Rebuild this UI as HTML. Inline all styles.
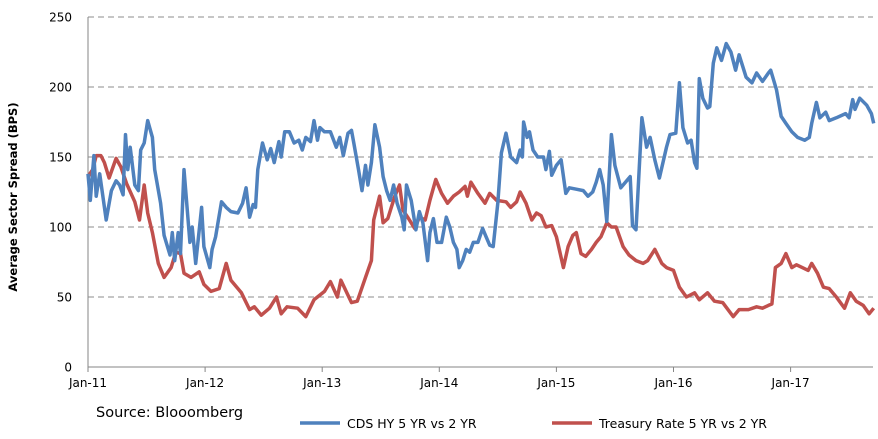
<!DOCTYPE html>
<html><head><meta charset="utf-8"><style>
body{margin:0;background:#fff;width:878px;height:435px;overflow:hidden;font-family:"DejaVu Sans",sans-serif}
svg text{font-family:"DejaVu Sans",sans-serif}
</style></head><body>
<svg id="chart" width="878" height="435" xmlns="http://www.w3.org/2000/svg"></svg>
<script>
const yTicks=[0,50,100,150,200,250];
const xTickYears=[2011,2012,2013,2014,2015,2016,2017];
const xTickLabels=["Jan-11","Jan-12","Jan-13","Jan-14","Jan-15","Jan-16","Jan-17"];
const seriesNames=["CDS HY 5 YR vs 2 YR","Treasury Rate 5 YR vs 2 YR"];
const cdsDates=[2011.00,2011.02,2011.05,2011.07,2011.10,2011.155,2011.20,2011.24,2011.27,2011.30,2011.32,2011.34,2011.36,2011.40,2011.43,2011.45,2011.48,2011.51,2011.55,2011.57,2011.62,2011.65,2011.70,2011.72,2011.74,2011.77,2011.79,2011.82,2011.87,2011.89,2011.92,2011.97,2011.99,2012.04,2012.06,2012.09,2012.14,2012.18,2012.22,2012.28,2012.32,2012.35,2012.38,2012.41,2012.43,2012.45,2012.49,2012.53,2012.56,2012.59,2012.63,2012.65,2012.68,2012.72,2012.76,2012.80,2012.83,2012.86,2012.90,2012.93,2012.96,2012.98,2013.02,2013.07,2013.12,2013.15,2013.18,2013.22,2013.25,2013.27,2013.31,2013.34,2013.37,2013.39,2013.42,2013.45,
2013.49,2013.52,2013.55,2013.58,2013.61,2013.64,2013.68,2013.70,2013.72,2013.76,2013.80,2013.83,2013.86,2013.90,2013.92,2013.95,2013.98,2014.02,2014.06,2014.09,2014.12,2014.15,2014.17,2014.20,2014.23,2014.26,2014.29,2014.33,2014.37,2014.40,2014.43,2014.46,2014.50,2014.53,2014.57,2014.61,2014.66,2014.69,2014.71,2014.72,2014.75,2014.77,2014.80,2014.84,2014.89,2014.91,2014.94,2014.96,2015.00,2015.04,2015.08,2015.11,2015.17,2015.23,2015.27,2015.31,2015.34,2015.37,2015.40,
2015.43,2015.47,2015.50,2015.55,2015.63,2015.65,2015.68,2015.73,2015.77,2015.80,2015.84,2015.88,2015.94,2015.97,2016.02,2016.05,2016.08,2016.12,2016.15,2016.18,2016.20,2016.22,2016.25,2016.29,2016.31,2016.34,2016.37,2016.41,2016.45,2016.49,2016.53,2016.56,2016.62,2016.67,2016.71,2016.76,2016.81,2016.83,2016.88,2016.92,2016.96,2017.01,2017.06,2017.12,2017.16,2017.18,2017.22,2017.25,2017.30,2017.33,2017.39,2017.47,2017.50,2017.53,2017.55,2017.59,2017.65,2017.69,2017.71];
const cdsValues=[138,119,151,122,138,105,126,133,130,123,166,141,157,130,126,155,160,176,164,141,117,94,80,96,76,96,81,141,89,100,74,114,86,71,84,93,118,114,111,110,117,128,107,116,114,141,160,148,156,146,161,150,168,168,160,162,155,164,161,176,162,171,168,168,157,164,151,167,169,160,141,126,144,130,146,173,
157,136,126,119,130,117,107,98,130,119,98,111,103,76,96,106,89,89,107,100,89,84,71,76,84,82,89,89,99,93,87,86,117,153,167,150,146,155,150,175,164,168,155,150,150,141,154,137,144,148,124,128,127,126,122,125,132,141,130,
104,166,144,128,136,101,98,178,157,164,148,135,157,166,167,203,171,160,162,146,142,206,192,185,186,217,228,219,231,225,212,223,207,203,210,204,210,212,198,179,174,168,164,162,164,174,189,178,182,176,178,181,178,191,184,192,187,181,174];
const tsyDates=[2011.00,2011.04,2011.07,2011.11,2011.14,2011.18,2011.24,2011.28,2011.33,2011.40,2011.44,2011.48,2011.51,2011.55,2011.60,2011.65,2011.71,2011.75,2011.79,2011.82,2011.88,2011.95,2011.99,2012.05,2012.12,2012.18,2012.22,2012.31,2012.38,2012.42,2012.48,2012.55,2012.61,2012.65,2012.70,2012.79,2012.86,2012.93,2013.02,2013.07,2013.13,2013.16,2013.25,2013.30,2013.37,2013.42,2013.44,2013.49,
2013.52,2013.56,2013.62,2013.66,2013.69,2013.73,2013.79,2013.83,2013.88,2013.92,2013.97,2014.02,2014.07,2014.12,2014.17,2014.22,2014.24,2014.27,2014.33,2014.39,2014.43,2014.49,2014.57,2014.61,2014.66,2014.69,2014.74,2014.79,2014.83,2014.87,2014.91,2014.96,2015.00,2015.03,2015.06,2015.10,2015.14,2015.17,2015.21,2015.25,2015.30,2015.34,2015.38,2015.43,2015.47,2015.51,2015.57,2015.62,
2015.68,2015.74,2015.78,2015.84,2015.90,2015.94,2016.00,2016.05,2016.11,2016.18,2016.22,2016.29,2016.35,2016.42,2016.51,2016.56,2016.64,2016.71,2016.76,2016.81,2016.84,2016.87,2016.92,2016.96,2017.01,2017.05,2017.10,2017.15,2017.18,2017.23,2017.28,2017.33,2017.39,2017.46,2017.51,2017.56,2017.62,2017.67,2017.71];
const tsyValues=[136,141,151,151,146,135,149,143,131,118,105,130,110,96,74,64,71,82,81,67,64,68,59,54,56,74,62,53,41,43,37,42,50,38,43,42,36,48,54,61,50,62,46,47,64,76,105,122,
103,106,122,130,112,107,99,107,105,119,134,124,117,122,125,129,122,132,124,117,124,119,118,114,118,125,117,105,110,108,100,101,93,82,71,86,94,96,81,79,84,89,93,103,100,100,86,80,
76,74,76,84,74,71,69,57,50,53,48,53,47,46,36,41,41,43,42,44,45,71,74,81,71,73,71,69,74,67,57,56,50,42,53,47,44,38,42];

const NS="http://www.w3.org/2000/svg";
const svg=document.getElementById('chart');
const L=88,R=873,T=17,B=367;
function xs(yr){return L+(yr-2011)*117.1;}
function ys(v){return B-(v/250)*(B-T);}
function mk(tag,attrs,parent){const e=document.createElementNS(NS,tag);for(const k in attrs)e.setAttribute(k,attrs[k]);(parent||svg).appendChild(e);return e;}

yTicks.forEach(v=>{
  if(v>0){const g=mk('line',{x1:L,x2:R,y1:ys(v),y2:ys(v),stroke:'#8c8c8c','stroke-width':1,'stroke-dasharray':'6,4'});
  
  }
  const t=mk('text',{x:72,y:ys(v)+4.5,'text-anchor':'end','font-size':12,fill:'#000'});
  t.textContent=v;
  
  
});
const ya=mk('line',{x1:L,x2:L,y1:T,y2:B,stroke:'#868686','stroke-width':1});


const xa=mk('line',{x1:L,x2:R,y1:B,y2:B,stroke:'#868686','stroke-width':1});


xTickYears.forEach((yr,i)=>{
  const tk=mk('line',{x1:xs(yr),x2:xs(yr),y1:B,y2:B+5,stroke:'#868686'});
  
  
  const t=mk('text',{x:xs(yr),y:387,'text-anchor':'middle','font-size':12,fill:'#000'});
  t.textContent=xTickLabels[i];
  
  
});
function line(dates,vals,color,name){
  const d=dates.map((yr,i)=>(i?'L':'M')+xs(yr).toFixed(1)+','+ys(vals[i]).toFixed(1)).join(' ');
  const p=mk('path',{d:d,fill:'none',stroke:color,'stroke-width':3.5,'stroke-linejoin':'round'});
  
  
}
line(tsyDates,tsyValues,'#c0504d','treasury-series-line');
line(cdsDates,cdsValues,'#4f81bd','cds-series-line');

const yt=mk('text',{x:0,y:0,'font-size':11.5,'font-weight':'bold','text-anchor':'middle',transform:'translate(17,197) rotate(-90)'});
yt.textContent='Average Sector Spread (BPS)';


const src=mk('text',{x:96,y:417,'font-size':14.5});
src.textContent='Source: Blooomberg';


const colors=['#4f81bd','#c0504d'];const lx=[300,552];
seriesNames.forEach((n,i)=>{
  const l=mk('line',{x1:lx[i],x2:lx[i]+40,y1:423,y2:423,stroke:colors[i],'stroke-width':3.5});
  
  
  const t=mk('text',{x:lx[i]+47,y:428,'font-size':12.5});
  t.textContent=n;
  
  
});
</script>
</body></html>
